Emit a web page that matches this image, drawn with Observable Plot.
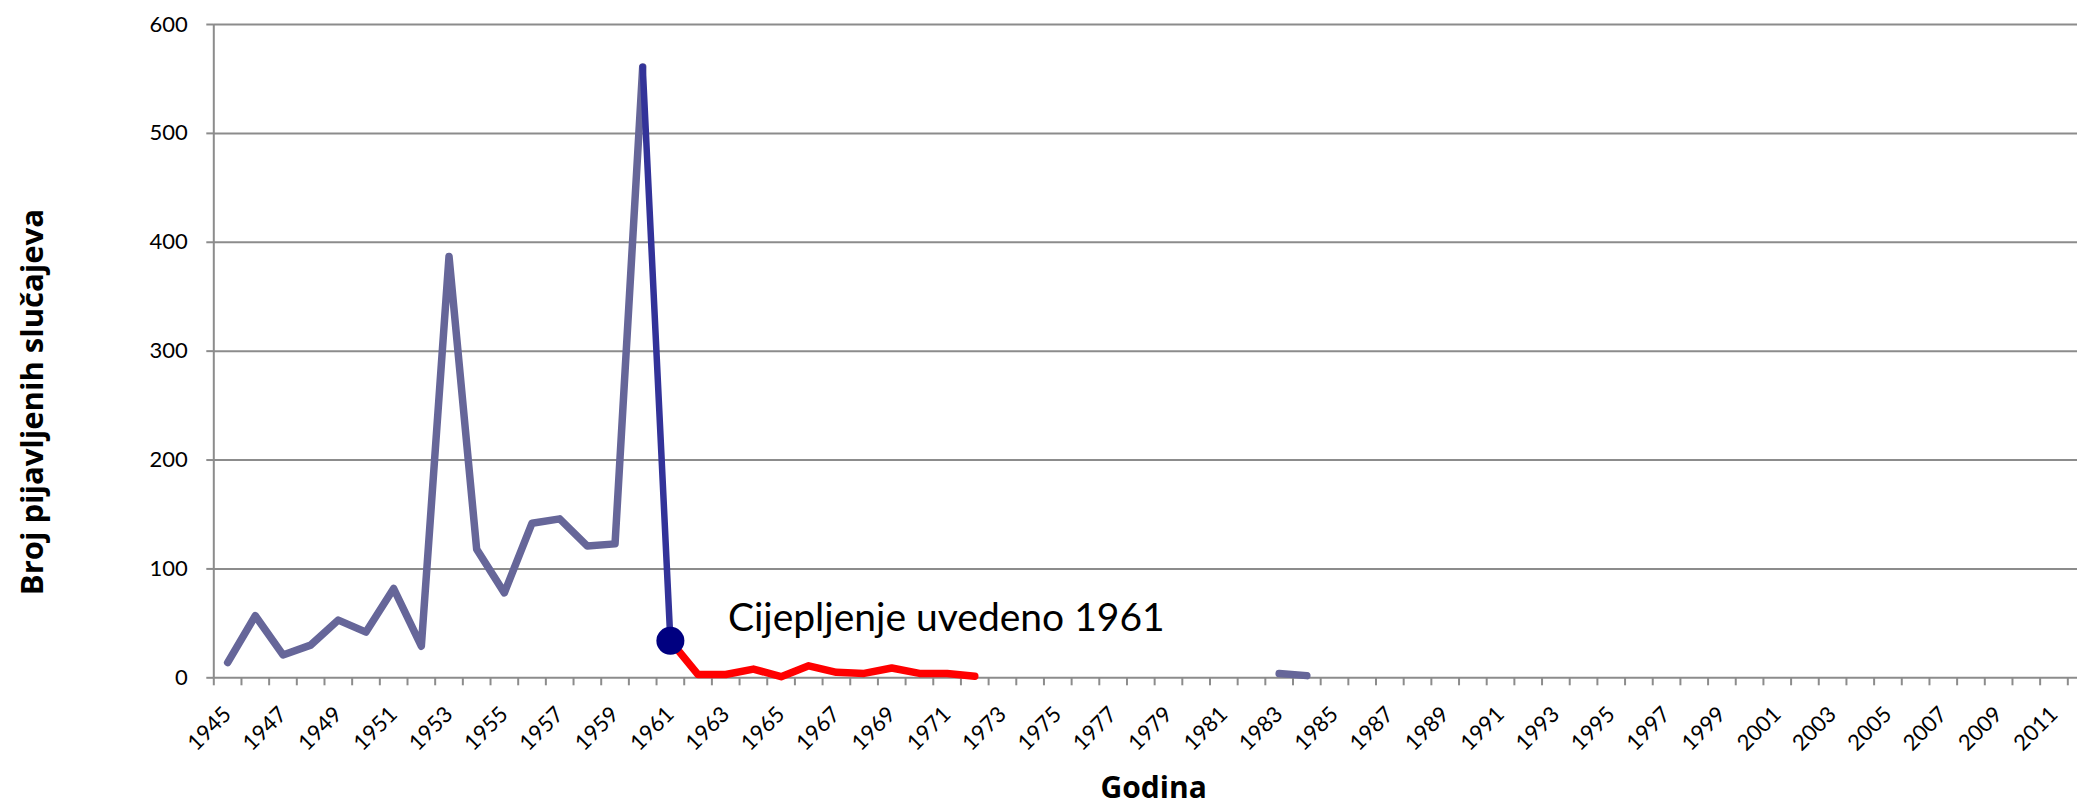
<!DOCTYPE html>
<html>
<head>
<meta charset="utf-8">
<script src="https://cdn.jsdelivr.net/npm/d3@7"></script>
<script src="https://cdn.jsdelivr.net/npm/@observablehq/plot@0.6"></script>
<style>
  html, body { margin: 0; padding: 0; background: #fff; }
  #chart svg { display: block; }
</style>
</head>
<body>
<div id="chart"></div>
<script>
// ---- data ----
const years = [1945, 1946, 1947, 1948, 1949, 1950, 1951, 1952, 1953, 1954, 1955, 1956,
               1957, 1958, 1959, 1960, 1961, 1962, 1963, 1964, 1965, 1966, 1967, 1968,
               1969, 1970, 1971, 1972, 1983, 1984];
const cases = [14, 57, 21, 30, 53, 42, 82, 29, 387, 118, 78, 142,
               146, 121, 123, 561, 34, 3, 3, 8, 1, 11, 5, 4,
               9, 4, 4, 1.5, 4, 2];
const vaccinationYear = 1961;
const annotationText = "Cijepljenje uvedeno 1961";
const yTicks = [0, 100, 200, 300, 400, 500, 600];
const xLabelYears = [1945, 1947, 1949, 1951, 1953, 1955, 1957, 1959, 1961, 1963, 1965, 1967,
                     1969, 1971, 1973, 1975, 1977, 1979, 1981, 1983, 1985, 1987, 1989, 1991,
                     1993, 1995, 1997, 1999, 2001, 2003, 2005, 2007, 2009, 2011];
const categoryYears = d3.range(1945, 2012); // one category per year on the axis
const yTitle = "Broj pijavljenih slučajeva";
const xTitle = "Godina";

// ---- build rows ----
const rows = years.map((y, i) => ({year: y, cases: cases[i]}));
const preRows = rows.filter(d => d.year <= 1960).map(d => ({...d, seg: "a"}))
  .concat(rows.filter(d => d.year >= 1983).map(d => ({...d, seg: "b"})));
const dropRows = rows.filter(d => d.year >= 1960 && d.year <= vaccinationYear);
const postRows = rows.filter(d => d.year >= vaccinationYear && d.year <= 1972);
const vaccRow = rows.filter(d => d.year === vaccinationYear);
const boundaries = categoryYears.map(y => y - 0.5).concat([categoryYears[categoryYears.length - 1] + 0.5]);

const gridColor = "#8c8c8c";
const W = 2077, H = 805;

const chart = Plot.plot({
  width: W,
  height: H,
  marginLeft: 213.3,
  marginRight: 0,
  marginTop: 24,
  marginBottom: 127.7,
  x: {type: "linear", domain: [1944.5, 2011.85]},
  y: {domain: [0, 600]},
  style: {fontFamily: "Lato, 'Open Sans', sans-serif", background: "#fff", color: "#000", overflow: "visible"},
  marks: [
    Plot.gridY(yTicks, {stroke: gridColor, strokeOpacity: 1, strokeWidth: 2}),
    Plot.ruleX([boundaries[0]], {stroke: gridColor, strokeWidth: 2}),
    Plot.axisY({ticks: yTicks, tickSize: 7, tickPadding: 19, fontSize: 22, label: null,
                stroke: gridColor, strokeWidth: 2, tickFormat: d => String(d)}),
    Plot.axisX({ticks: boundaries, tickSize: 8, tickFormat: () => "", label: null,
                stroke: gridColor, strokeWidth: 2}),
    Plot.text(xLabelYears, {x: d => d, text: d => String(d), frameAnchor: "bottom",
                rotate: -45, textAnchor: "end", lineAnchor: "middle", dy: 33, fontSize: 22, fill: "#000"}),
    Plot.line(preRows, {x: "year", y: "cases", z: "seg", stroke: "#666699", strokeWidth: 7.5,
                strokeLinecap: "round", strokeLinejoin: "round"}),
    Plot.line(dropRows, {x: "year", y: "cases", stroke: "#333399", strokeWidth: 6.5,
                strokeLinecap: "round", strokeLinejoin: "round"}),
    Plot.line(postRows, {x: "year", y: "cases", stroke: "#ff0000", strokeWidth: 7.5,
                strokeLinecap: "round", strokeLinejoin: "round"}),
    Plot.dot(vaccRow, {x: "year", y: "cases", r: 14, fill: "#000080", stroke: "none"}),
    Plot.text(vaccRow, {x: "year", y: "cases", text: () => annotationText, textAnchor: "start",
                lineAnchor: "middle", dx: 57.5, dy: -22, fontSize: 39, fill: "#000"}),
    Plot.text([yTitle], {text: d => d, frameAnchor: "left", rotate: -90, textAnchor: "middle",
                lineAnchor: "middle", dx: -180.5, dy: 51, fontSize: 31, fontWeight: "bold",
                fontFamily: "'Open Sans', sans-serif", fill: "#000"}),
    Plot.text([xTitle], {text: d => d, frameAnchor: "bottom", textAnchor: "middle",
                lineAnchor: "middle", dx: 8, dy: 110.5, fontSize: 30, fontWeight: "bold",
                fontFamily: "'Open Sans', sans-serif", fill: "#000"})
  ]
});

document.getElementById("chart").appendChild(chart);
</script>
</body>
</html>
